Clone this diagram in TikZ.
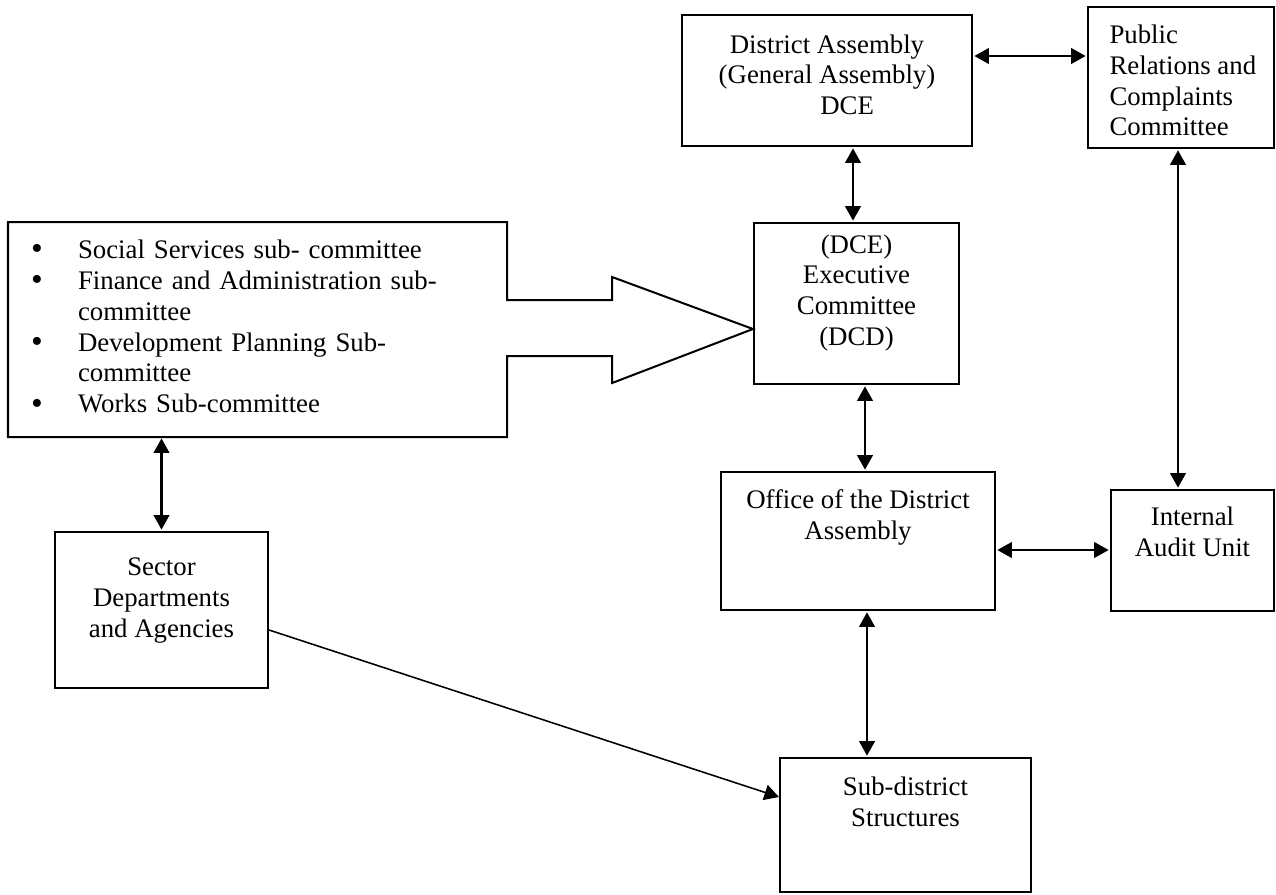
\documentclass[tikz,border=0pt]{standalone}
\usepackage{fontspec}
\setmainfont{Liberation Serif}
\usetikzlibrary{arrows.meta,calc}

\tikzset{
  orgbox/.style={draw, line width=0.9pt, inner sep=0pt},
  boxtext/.style={anchor=north, align=center, inner sep=0pt},
  link/.style={<->, line width=0.9pt, shorten <=0.6pt, shorten >=0.6pt},
}
\newcommand{\bigbullet}{\raisebox{-0.6pt}{\fontsize{15pt}{15pt}\selectfont\textbullet}}

\begin{document}
\begin{tikzpicture}[x=0.4478pt, y=-0.4478pt, >={Triangle[length=6.5pt,width=7pt]},
    font=\fontsize{12pt}{13.8pt}\selectfont]
    \useasboundingbox (0,0) rectangle (1276,894);

    \node[orgbox, minimum width=129.9pt, minimum height=58.7pt,
      label={[boxtext, yshift=-9pt]north:{District Assembly\\(General Assembly)\\\hspace*{18pt}DCE}}] (assembly) at (827,80.5) {};
    \node[orgbox, minimum width=83.3pt, minimum height=63.1pt,
      label={[boxtext, anchor=north west, align=left, xshift=9.9pt, yshift=-8.2pt]north west:{Public\\Relations and\\Complaints\\Committee}}] (pr) at (1181,77.5) {};
    \node[orgbox, minimum width=91.8pt, minimum height=72.1pt,
      label={[boxtext, yshift=-5.4pt]north:{(DCE)\\Executive\\Committee\\(DCD)}}] (exec) at (856.5,303.5) {};
    \node[orgbox, minimum width=122.7pt, minimum height=61.8pt,
      label={[boxtext, yshift=-8.2pt]north:{Office of the District\\Assembly}}] (office) at (858,541) {};
    \node[orgbox, minimum width=73pt, minimum height=54.2pt,
      label={[boxtext, yshift=-7.7pt]north:{Internal\\Audit Unit}}] (audit) at (1192.5,550.5) {};
    \node[orgbox, minimum width=95.4pt, minimum height=69.9pt,
      label={[boxtext, yshift=-11.8pt]north:{Sector\\Departments\\and Agencies}}] (sector) at (161.5,610) {};
    \node[orgbox, minimum width=112.4pt, minimum height=60pt,
      label={[boxtext, yshift=-8.6pt]north:{Sub-district\\Structures}}] (subdist) at (905.5,825) {};

    % sub-committees list with its big arrow
    \node[anchor=north west, outer sep=0pt, inner xsep=10.3pt, inner ysep=0pt,
      text width=202.9pt, minimum height=96.3pt, align=left] (subcom) at (8,222) {%
      \begin{tabular}{@{}l@{\hspace{15.8pt}}l@{}}
        \bigbullet & Social Services sub- committee\\
        \bigbullet & Finance and Administration sub-\\
                   & committee\\
        \bigbullet & Development Planning Sub-\\
                   & committee\\
        \bigbullet & Works Sub-committee
      \end{tabular}};
    \draw[line width=0.9pt] (subcom.north west) -- (subcom.north east) -- ++(0,78) -- ++(105,0)
      -- ++(0,-23) coordinate (headtop) -- (exec.west |- 0,329) -- (headtop |- 0,383)
      -- ++(0,-27) -- ++(-105,0) -- (subcom.south east) -- (subcom.south west) -- cycle;

    \draw[link] (assembly.east |- 0,56) -- (pr.west |- 0,56);
    \draw[link] (assembly.south -| 853,0) -- (exec.north -| 853,0);
    \draw[link] (exec.south -| 865,0) -- (office.north -| 865,0);
    \draw[link] (office.south -| 867,0) -- (subdist.north -| 867,0);
    \draw[link] (office.east |- 0,550) -- (audit.west |- 0,550);
    \draw[link] (pr.south -| 1178,0) -- (audit.north -| 1178,0);
    \draw[link] (subcom.south -| sector.north) -- (sector.north);
    \draw[->, line width=0.7pt] (sector.east |- 0,630) -- (subdist.west |- 0,797);
\end{tikzpicture}
\end{document}
